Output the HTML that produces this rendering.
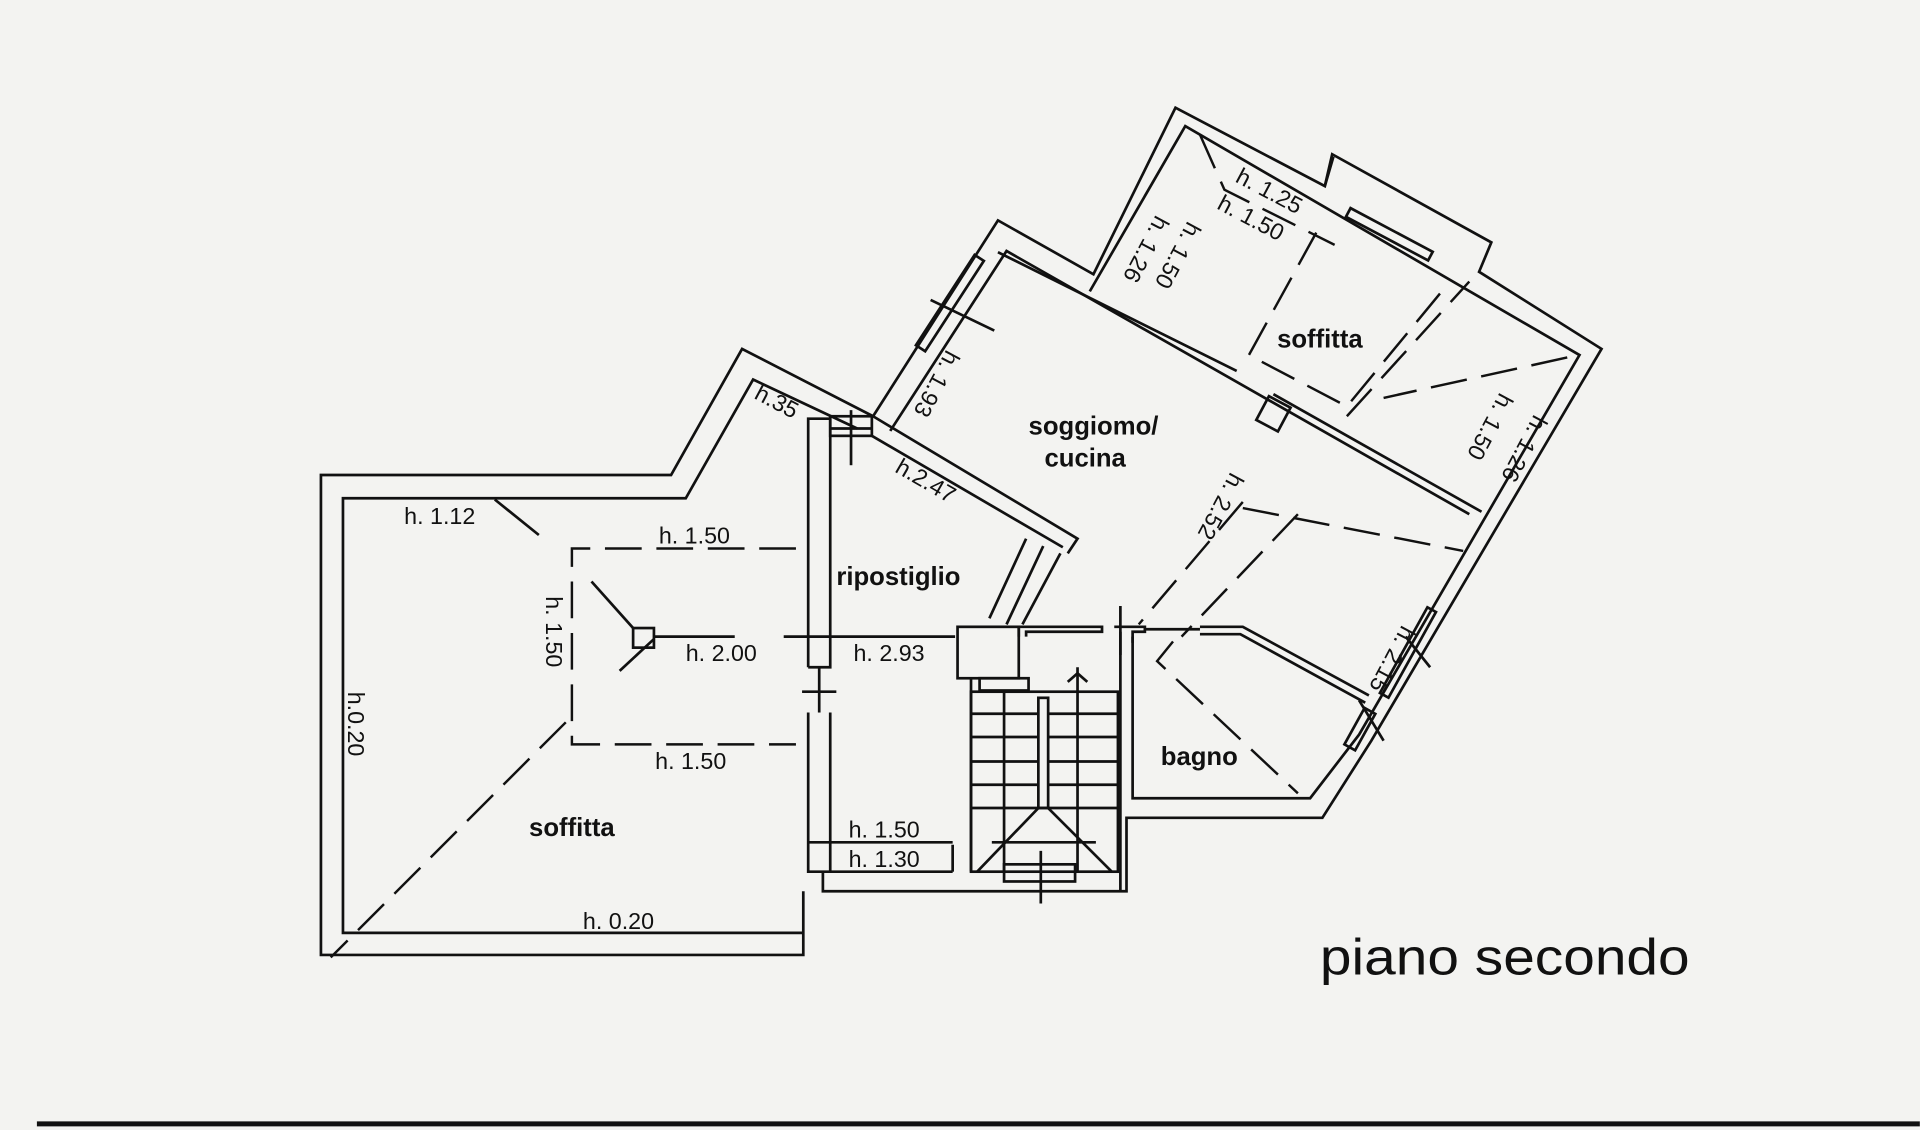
<!DOCTYPE html>
<html><head><meta charset="utf-8"><style>
html,body{margin:0;padding:0;background:#f3f3f1;}
svg{display:block}
text{font-family:"Liberation Sans",sans-serif;fill:#111}
</style></head><body>
<svg width="1920" height="1130" viewBox="0 0 1568 923" xmlns="http://www.w3.org/2000/svg">
<rect width="1568" height="923" fill="#f3f3f1"/>
<g fill="none" stroke="#111" stroke-width="2.2" stroke-linejoin="miter">
<polyline points="656,728 656,780 262,780 262,388 548,388 606,285 713,340"/>
<polyline points="656,762 280,762 280,407 560,407 615,310 700,350"/>
<polyline points="660,545 660,342 678,342 678,545 660,545"/>
<polyline points="660,582 660,712 678,712 678,582"/>
<line x1="669" y1="545" x2="669" y2="582"/>
<line x1="655" y1="565" x2="683" y2="565"/>
<rect x="678" y="340" width="34" height="16"/>
<line x1="678" y1="350" x2="712" y2="350"/>
<line x1="695" y1="335" x2="695" y2="380"/>
<polyline points="713,340 880,440 872,452"/>
<polyline points="712,356 868,447"/>
<line x1="808" y1="505" x2="838" y2="440"/>
<line x1="822" y1="510" x2="852" y2="446"/>
<line x1="835" y1="510" x2="866" y2="452"/>
<polyline points="713,340 815,180 893,224 960,88 1082,152 1088,126 1218,198 1208,222 1308,285 1120,605 1080,668 920,668 920,728 672,728 672,712"/>
<polyline points="727,352 822,205 1200,420"/>
<polyline points="890,238 968,103 1290,290 1110,600 1070,652 925,652 925,520"/>
<line x1="815" y1="206" x2="1010" y2="303"/>
<line x1="1040" y1="322" x2="1210" y2="418"/>
<polyline points="1089,128 1082,152"/>
<rect x="0" y="0" width="76" height="8" transform="translate(1103,170) rotate(28)"/>
<rect x="0" y="0" width="88" height="9" transform="translate(748,282) rotate(-57)"/>
<line x1="760" y1="245" x2="812" y2="270"/>
<rect x="1030" y="327" width="20" height="22" transform="rotate(28 1040 338)"/>
<rect x="0" y="0" width="80" height="8" transform="translate(1127,566) rotate(-61)"/>
<rect x="0" y="0" width="34" height="10" transform="translate(1098,608) rotate(-61)"/>
<line x1="1110" y1="572" x2="1130" y2="605"/>
<line x1="1148" y1="520" x2="1168" y2="545"/>
<line x1="678" y1="712" x2="778" y2="712"/>
<line x1="778" y1="690" x2="778" y2="712"/>
<line x1="660" y1="688" x2="778" y2="688"/>
<line x1="640" y1="520" x2="780" y2="520"/>
<rect x="782" y="512" width="50" height="42"/>
<polyline points="832,520 832,512 900,512 900,516 838,516 838,520"/>
<polyline points="910,512 935,512 935,516 925,516 925,525"/>
<line x1="935" y1="514" x2="980" y2="514"/>
<polyline points="980,512 1015,512 1118,568"/>
<polyline points="980,518 1013,518 1115,574"/>
<line x1="915" y1="495" x2="915" y2="535"/>
<rect x="793" y="565" width="120" height="147"/>
<line x1="793" y1="555" x2="793" y2="712"/>
<line x1="915" y1="516" x2="915" y2="728"/>
<rect x="820" y="706" width="58" height="14"/>
<rect x="800" y="554" width="40" height="10"/>
<rect x="848" y="570" width="8" height="90"/>
<line x1="820" y1="565" x2="820" y2="712"/>
<line x1="880" y1="545" x2="880" y2="712"/>
<line x1="793" y1="583" x2="848" y2="583"/><line x1="856" y1="583" x2="913" y2="583"/>
<line x1="793" y1="602" x2="848" y2="602"/><line x1="856" y1="602" x2="913" y2="602"/>
<line x1="793" y1="622" x2="848" y2="622"/><line x1="856" y1="622" x2="913" y2="622"/>
<line x1="793" y1="641" x2="848" y2="641"/><line x1="856" y1="641" x2="913" y2="641"/>
<line x1="793" y1="660" x2="913" y2="660"/>
<line x1="798" y1="712" x2="848" y2="660"/><line x1="908" y1="712" x2="856" y2="660"/>
<line x1="810" y1="688" x2="895" y2="688"/>
<polyline points="872,557 880,550 888,557"/>
<line x1="850" y1="695" x2="850" y2="738"/>
<line x1="404" y1="408" x2="440" y2="437"/>
<rect x="517" y="513" width="17" height="16"/>
<line x1="534" y1="520" x2="600" y2="520"/>
<line x1="483" y1="475" x2="517" y2="513"/>
<line x1="506" y1="548" x2="534" y2="522"/>
</g>
<g fill="none" stroke="#111" stroke-width="2" stroke-dasharray="30,12">
<polyline points="650,448 467,448 467,608 650,608"/>
<line x1="462" y1="590" x2="270" y2="782"/>
<polyline points="1075,190 1020,290 1100,332 1180,235"/>
<polyline points="980,110 1000,155 1090,200"/>
<line x1="1015" y1="410" x2="930" y2="510"/>
<line x1="1015" y1="415" x2="1195" y2="450"/>
<line x1="1100" y1="340" x2="1200" y2="230"/>
<line x1="1280" y1="292" x2="1130" y2="325"/>
<line x1="1060" y1="420" x2="965" y2="520"/>
<polyline points="958,524 945,540 1060,648"/>
</g>
<g font-size="19">
<text x="330" y="428">h. 1.12</text>
<text x="538" y="444">h. 1.50</text>
<text x="560" y="540">h. 2.00</text>
<text x="697" y="540">h. 2.93</text>
<text x="535" y="628">h. 1.50</text>
<text x="693" y="684">h. 1.50</text>
<text x="693" y="708">h. 1.30</text>
<text x="476" y="759">h. 0.20</text>
<text transform="translate(446,487) rotate(90)">h. 1.50</text>
<text transform="translate(284,565) rotate(90)">h.0.20</text>
<text transform="translate(615,325) rotate(28)">h.35</text>
<text transform="translate(730,385) rotate(30)">h.2.47</text>
<text transform="translate(773,285) rotate(118)">h. 1.93</text>
<text transform="translate(1005,385) rotate(118)">h. 2.52</text>
<text transform="translate(1145,510) rotate(118)">h. 2.15</text>
<text transform="translate(1008,148) rotate(28)">h. 1.25</text>
<text transform="translate(993,170) rotate(28)">h. 1.50</text>
<text transform="translate(944,175) rotate(118)">h. 1.26</text>
<text transform="translate(970,180) rotate(118)">h. 1.50</text>
<text transform="translate(1225,320) rotate(118)">h. 1.50</text>
<text transform="translate(1253,338) rotate(118)">h. 1.26</text>
</g>
<g font-size="21" font-weight="bold">
<text x="432" y="683">soffitta</text>
<text x="683" y="478">ripostiglio</text>
<text x="840" y="355">soggiomo/</text>
<text x="853" y="381">cucina</text>
<text x="1043" y="284">soffitta</text>
<text x="948" y="625">bagno</text>
</g>
<text x="1078" y="796" font-size="42" textLength="302" lengthAdjust="spacingAndGlyphs">piano secondo</text>
<line x1="30" y1="918" x2="1568" y2="918" stroke="#111" stroke-width="4"/>
</svg>
</body></html>
